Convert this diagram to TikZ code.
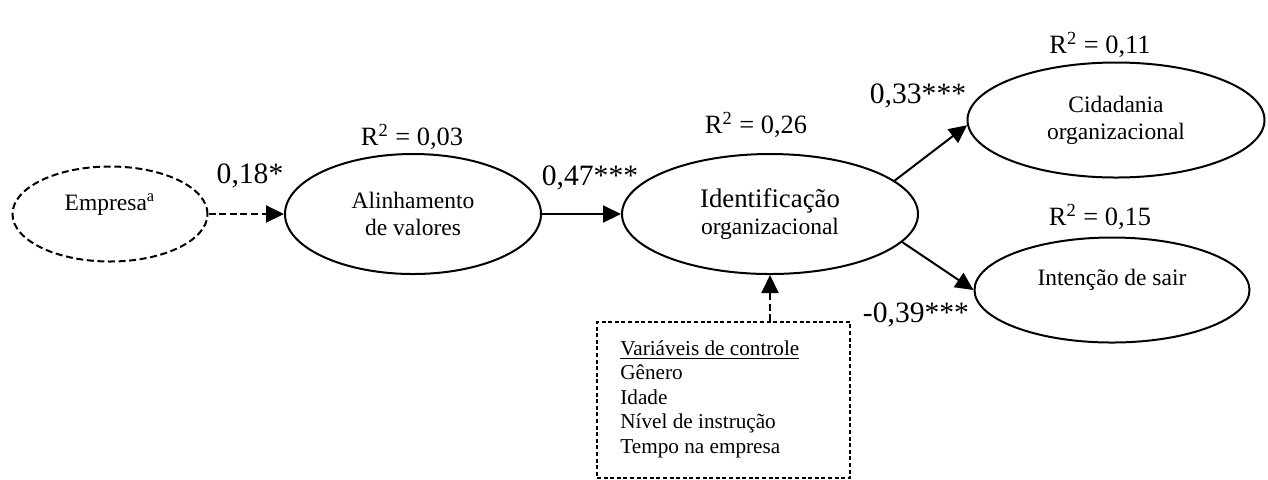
\documentclass[tikz,border=0pt]{standalone}
\usepackage{fontspec}
\setmainfont{Liberation Serif}
\usetikzlibrary{shapes.geometric,arrows.meta}
\begin{document}
\begin{tikzpicture}[x=0.5pt,y=-0.5pt,
  latent/.style={ellipse,draw,line width=1pt,inner sep=0pt,align=center,
    font=\fontsize{11.75}{13.5}\selectfont},
  dashlatent/.style={latent,dash pattern=on 3.5pt off 1.8pt},
  path/.style={line width=1pt,-{Triangle[length=9pt,width=8.5pt]}},
  dashpath/.style={path,dash pattern=on 3.5pt off 1.8pt},
  coef/.style={anchor=base,inner sep=0pt,font=\fontsize{14.8}{16}\selectfont},
  rsq/.style={anchor=base,inner sep=0pt,font=\fontsize{13.2}{15}\selectfont},
  ctrlbox/.style={draw,line width=0.6pt,dash pattern=on 2pt off 1.3pt,inner sep=0pt},
  ctrltext/.style={anchor=north west,inner sep=0pt,align=left,
    font=\fontsize{10.6}{12.25}\selectfont}
]
\useasboundingbox (0,0) rectangle (1268,479);

\node[dashlatent,minimum width=97.5pt,minimum height=47.5pt] (emp) at (110,214)
  {\raisebox{2pt}[0pt][0pt]{Empresa\textsuperscript{a}}};
\node[latent,minimum width=128pt,minimum height=60pt] (alin) at (413,214)
  {Alinhamento\\de valores};
\node[latent,minimum width=148pt,minimum height=60pt] (id) at (770,214)
  {{\fontsize{13.4}{13.5}\selectfont Identificação}\\organizacional};
\node[latent,minimum width=148.5pt,minimum height=57.5pt] (cid) at (1116,120)
  {Cidadania\\organizacional};
\node[latent,minimum width=137.5pt,minimum height=52.5pt] (int) at (1112,290)
  {\raisebox{2.5pt}[0pt][0pt]{Intenção de sair}};

\node[ctrlbox,minimum width=126.5pt,minimum height=78pt] (box) at (723.5,400) {};
\node[ctrltext] (vars) at (620,340)
  {\underline{Variáveis de controle}\\Gênero\\Idade\\Nível de instrução\\Tempo na empresa};

\draw[dashpath] (emp) -- (alin);
\draw[path] (alin) -- (id);
\draw[path] (id.15) -- (cid.182);
\draw[path] (id.-12) -- (int.west);
\draw[dashpath] (box.north -| id.south) -- (id.south);

\node[coef] (c18) at (250,183) {0,18*};
\node[coef] (c47) at (590,185) {0,47***};
\node[coef] (c33) at (918,103) {0,33***};
\node[coef] (c39) at (916,322) {-0,39***};

\node[rsq] (r03) at (412,145) {R\textsuperscript{2} = 0,03};
\node[rsq] (r26) at (756,133) {R\textsuperscript{2} = 0,26};
\node[rsq] (r11) at (1100,53) {R\textsuperscript{2} = 0,11};
\node[rsq] (r15) at (1100,225) {R\textsuperscript{2} = 0,15};
\end{tikzpicture}
\end{document}
